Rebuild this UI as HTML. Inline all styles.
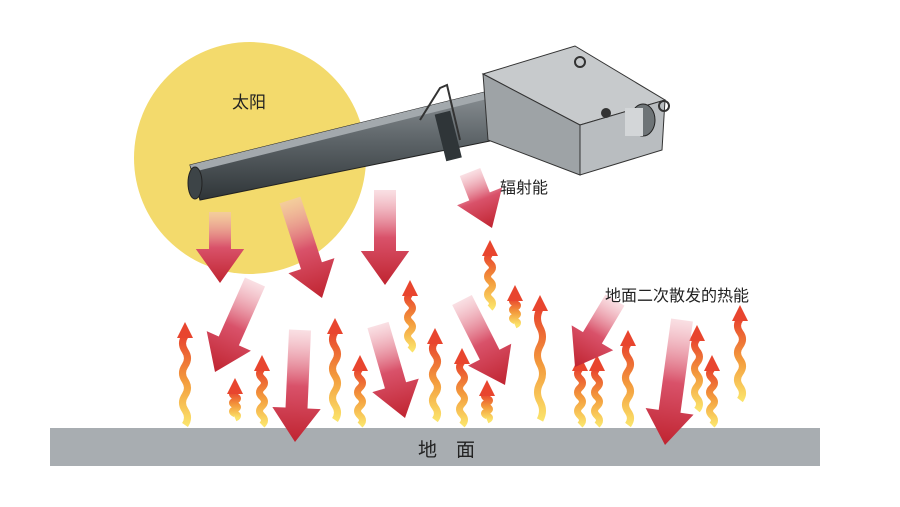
<!DOCTYPE html>
<html><head><meta charset="utf-8"><style>
html,body{margin:0;padding:0;background:#fff;}
svg{display:block}
text{font-family:"Liberation Sans","Noto Sans CJK SC",sans-serif;}
</style></head><body>
<svg id="s" width="900" height="507" viewBox="0 0 900 507" xmlns="http://www.w3.org/2000/svg">
<defs>
<linearGradient id="tube" x1="0" y1="0" x2="0" y2="1">
<stop offset="0" stop-color="#8a9094"/><stop offset="0.45" stop-color="#5d6468"/><stop offset="1" stop-color="#2f3538"/></linearGradient>
<linearGradient id="upg" x1="0" y1="1" x2="0" y2="0">
<stop offset="0" stop-color="#fbe36a"/><stop offset="0.5" stop-color="#f39a3c"/><stop offset="1" stop-color="#e8452e"/></linearGradient>
</defs>
<circle cx="250" cy="158" r="116" fill="#f3da6c"/>
<text x="232" y="108" font-size="17" fill="#222">太阳</text>
<rect x="50" y="428" width="770" height="38" fill="#a8adb1"/>
<text x="418" y="456" font-size="19" fill="#222">地&#8195;面</text>
<g id="arrows"></g>
<polygon points="190,165 485,92 495,140 200,200" fill="url(#tube)" stroke="#222" stroke-width="1"/>
<polygon points="190,165 485,92 487,99 193,172" fill="#a3a9ad"/>
<ellipse cx="195" cy="183" rx="7" ry="16" fill="#3d4447" stroke="#222"/>
<path d="M420,120 L440,88 L447,85 L460,140" fill="none" stroke="#333" stroke-width="2"/>
<rect x="440" y="112" width="16" height="48" fill="#2f3538" transform="rotate(-14 448 135)"/>
<polygon points="483,74 575,46 665,100 580,125" fill="#c7cacc" stroke="#333"/>
<polygon points="483,74 580,125 580,175 488,140" fill="#9ea3a6" stroke="#333"/>
<polygon points="580,125 665,100 662,150 580,175" fill="#b9bdc0" stroke="#333"/>
<ellipse cx="643" cy="120" rx="12" ry="16" fill="#6e7477" stroke="#222"/>
<rect x="625" y="108" width="18" height="28" fill="#d3d6d8"/>
<circle cx="606" cy="113" r="5" fill="#333"/>
<circle cx="580" cy="62" r="5" fill="none" stroke="#333" stroke-width="2"/>
<circle cx="664" cy="106" r="5" fill="none" stroke="#333" stroke-width="2"/>
<text x="500" y="193" font-size="16" fill="#222">辐射能</text>
<text x="605" y="301" font-size="16" fill="#222">地面二次散发的热能</text>
</svg>
<script>
var g=document.getElementById('arrows'),ns='http://www.w3.org/2000/svg',d=document.getElementById('s').querySelector('defs'),n=0;
function down(x1,y1,x2,y2,w){w=w||22;var dx=x2-x1,dy=y2-y1,L=Math.hypot(dx,dy),ux=dx/L,uy=dy/L,px=-uy,py=ux,h=34,hw=w*1.1;
var bx=x2-ux*h,by=y2-uy*h;
var pts=[[x1+px*w/2,y1+py*w/2],[bx+px*w/2,by+py*w/2],[bx+px*hw,by+py*hw],[x2,y2],[bx-px*hw,by-py*hw],[bx-px*w/2,by-py*w/2],[x1-px*w/2,y1-py*w/2]];
var id='dg'+(n++);var lg=document.createElementNS(ns,'linearGradient');lg.setAttribute('id',id);lg.setAttribute('gradientUnits','userSpaceOnUse');
lg.setAttribute('x1',x1);lg.setAttribute('y1',y1);lg.setAttribute('x2',x2);lg.setAttribute('y2',y2);
lg.innerHTML='<stop offset="0" stop-color="#f4c0c8" stop-opacity="0.5"/><stop offset="0.5" stop-color="#d9526a"/><stop offset="1" stop-color="#c02430"/>';d.appendChild(lg);
var p=document.createElementNS(ns,'polygon');p.setAttribute('points',pts.map(a=>a.join(',')).join(' '));p.setAttribute('fill','url(#'+id+')');g.appendChild(p);}
function up(x,t,b){var s='M'+x+','+b;var seg=(b-t-14)/6;for(var i=1;i<=6;i++){s+=' Q'+(x+(i%2?5:-5))+','+(b-seg*(i-0.5))+' '+x+','+(b-seg*i);}
var p=document.createElementNS(ns,'path');p.setAttribute('d',s);p.setAttribute('fill','none');p.setAttribute('stroke','url(#upg)');p.setAttribute('stroke-width','7');g.appendChild(p);
var h=document.createElementNS(ns,'polygon');h.setAttribute('points',(x-8)+','+(t+16)+' '+x+','+t+' '+(x+8)+','+(t+16));h.setAttribute('fill','#e8452e');g.appendChild(h);}
[[185,322,425],[235,378,418],[262,355,425],[335,318,420],[360,355,425],[410,280,350],[435,328,420],[462,348,425],[490,240,308],[487,380,420],[515,285,325],[540,295,420],[580,355,425],[597,355,425],[628,330,425],[697,325,410],[712,355,425],[740,305,400]].forEach(a=>up(a[0],a[1],a[2]));
[[220,212,220,283],[290,200,322,298],[385,190,385,285],[470,172,492,228],[255,282,215,372],[300,330,295,442],[378,325,405,418],[462,300,505,385],[615,300,575,367],[682,320,665,445]].forEach(a=>down(a[0],a[1],a[2],a[3]));
</script>
</body></html>
